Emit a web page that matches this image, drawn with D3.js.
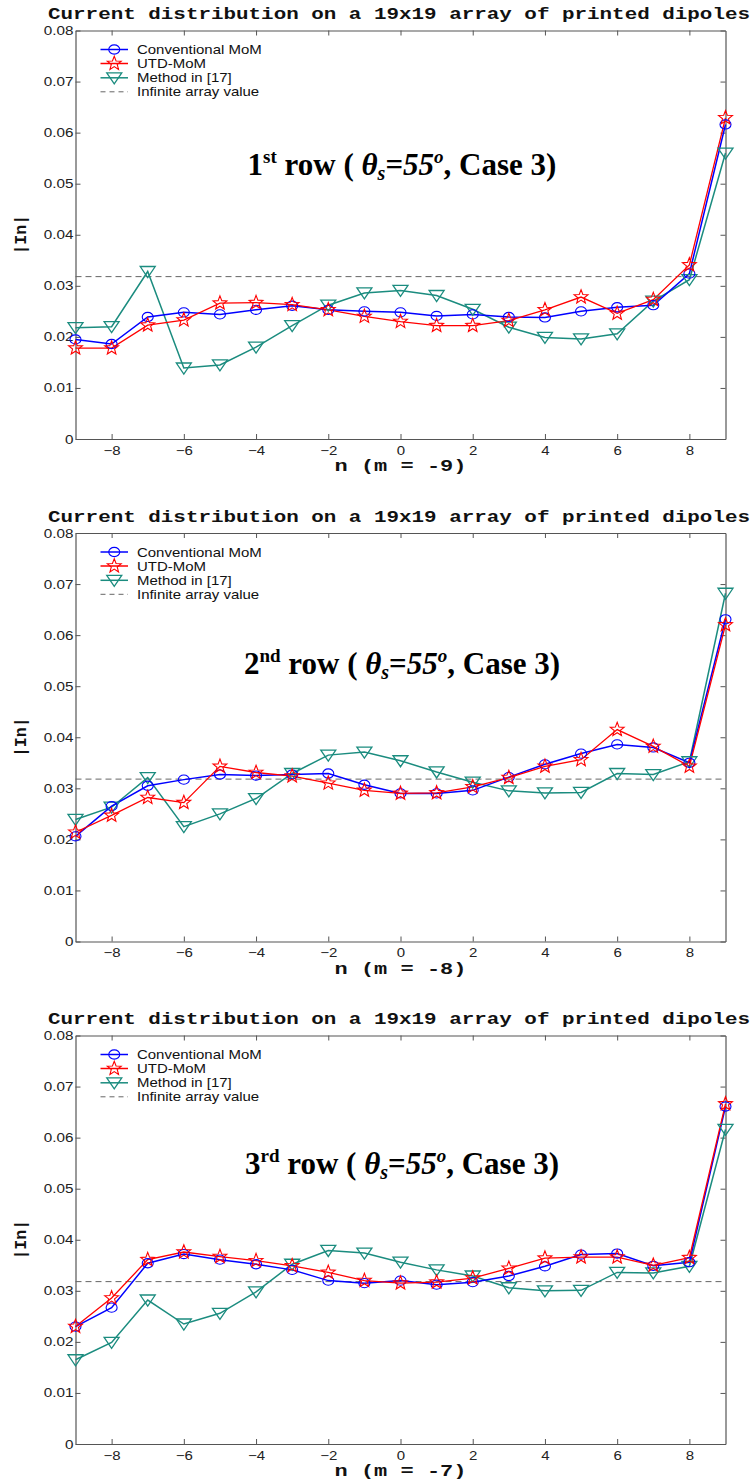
<!DOCTYPE html>
<html>
<head>
<meta charset="utf-8">
<script src="https://cdn.jsdelivr.net/npm/d3@7"></script>
<style>
  html, body { margin: 0; padding: 0; background: #fff; }
  svg { display: block; }
</style>
</head>
<body>
<script>
// Element index along the row
const nIndex = [-9, -8, -7, -6, -5, -4, -3, -2, -1, 0, 1, 2, 3, 4, 5, 6, 7, 8, 9];

// |In| for row m = -9
const momRow1 = [0.0195, 0.0186, 0.0239, 0.0248, 0.0244, 0.0253, 0.0261, 0.0253, 0.0250, 0.0248, 0.0241, 0.0244, 0.0239, 0.0238, 0.0250, 0.0258, 0.0262, 0.0324, 0.0616];
const utdRow1 = [0.0178, 0.0178, 0.0223, 0.0233, 0.0266, 0.0267, 0.0263, 0.0253, 0.0240, 0.0230, 0.0222, 0.0222, 0.0232, 0.0253, 0.0278, 0.0246, 0.0273, 0.0341, 0.0629];
const refRow1 = [0.0218, 0.0220, 0.0328, 0.0139, 0.0145, 0.0180, 0.0222, 0.0262, 0.0286, 0.0291, 0.0281, 0.0254, 0.0219, 0.0199, 0.0196, 0.0206, 0.0270, 0.0312, 0.0560];

// |In| for row m = -8
const momRow2 = [0.0206, 0.0265, 0.0305, 0.0317, 0.0327, 0.0325, 0.0327, 0.0329, 0.0307, 0.0290, 0.0290, 0.0296, 0.0322, 0.0347, 0.0368, 0.0386, 0.0380, 0.0350, 0.0631];
const utdRow2 = [0.0214, 0.0247, 0.0282, 0.0272, 0.0343, 0.0331, 0.0324, 0.0310, 0.0296, 0.0290, 0.0291, 0.0303, 0.0321, 0.0343, 0.0356, 0.0415, 0.0382, 0.0343, 0.0620];
const refRow2 = [0.0239, 0.0263, 0.0321, 0.0225, 0.0250, 0.0280, 0.0329, 0.0365, 0.0371, 0.0354, 0.0332, 0.0312, 0.0295, 0.0291, 0.0292, 0.0329, 0.0327, 0.0352, 0.0682];

// |In| for row m = -7
const momRow3 = [0.0230, 0.0267, 0.0354, 0.0372, 0.0361, 0.0352, 0.0341, 0.0320, 0.0315, 0.0320, 0.0312, 0.0317, 0.0329, 0.0348, 0.0371, 0.0373, 0.0349, 0.0356, 0.0661];
const utdRow3 = [0.0230, 0.0286, 0.0361, 0.0376, 0.0367, 0.0359, 0.0349, 0.0336, 0.0320, 0.0315, 0.0317, 0.0325, 0.0344, 0.0364, 0.0366, 0.0366, 0.0350, 0.0365, 0.0666];
const refRow3 = [0.0165, 0.0199, 0.0282, 0.0235, 0.0256, 0.0298, 0.0352, 0.0379, 0.0374, 0.0356, 0.0341, 0.0329, 0.0306, 0.0300, 0.0301, 0.0336, 0.0335, 0.0348, 0.0616];

// Infinite array reference level
const infiniteValue = 0.0318;

// Axis ticks
const xTicks = [-8, -6, -4, -2, 0, 2, 4, 6, 8];
const yTicks = [0, 0.01, 0.02, 0.03, 0.04, 0.05, 0.06, 0.07, 0.08];
const yTickLabels = ["0", "0.01", "0.02", "0.03", "0.04", "0.05", "0.06", "0.07", "0.08"];

// Panel texts
const panelTitle = "Current distribution on a 19x19 array of printed dipoles";
const xLabels = ["n  (m = -9)", "n  (m = -8)", "n  (m = -7)"];
const rowOrdinals = [["1", "st"], ["2", "nd"], ["3", "rd"]];
const seriesNames = ["Conventional MoM", "UTD-MoM", "Method in [17]", "Infinite array value"];

const panels = [
  { mom: momRow1, utd: utdRow1, ref: refRow1 },
  { mom: momRow2, utd: utdRow2, ref: refRow2 },
  { mom: momRow3, utd: utdRow3, ref: refRow3 }
];

const W = 755, H = 1483;
const plotLeft = 75.5, plotRight = 725.5, plotHeight = 408.5;
const panelTops = [30.5, 533, 1035.5];
const annotationOffsets = [144, 140.5, 138];

const blue = "#0000ff", red = "#ff0000", teal = "#1b8c7f", axisGray = "#555";

const svg = d3.select("body").append("svg")
  .attr("width", W).attr("height", H)
  .attr("viewBox", `0 0 ${W} ${H}`);

const x = d3.scaleLinear().domain([-9, 9]).range([plotLeft, plotRight]);

// Widen sans-serif labels horizontally, keeping their anchor in place
function widen(sel, factor) {
  sel.each(function () {
    const len = this.getComputedTextLength();
    d3.select(this).attr("textLength", len * factor).attr("lengthAdjust", "spacingAndGlyphs");
  });
}

function starPath(ro, ri) {
  const pts = [];
  for (let i = 0; i < 10; i++) {
    const r = i % 2 === 0 ? ro : ri;
    const a = -Math.PI / 2 + i * Math.PI / 5;
    pts.push([r * Math.cos(a), r * Math.sin(a)]);
  }
  return "M" + pts.map(p => p[0].toFixed(2) + "," + p[1].toFixed(2)).join("L") + "Z";
}
const STAR = starPath(7.3, 3.1);
const TRI = "M-7.5,-5L7.5,-5L0,6Z";

function drawCircle(g, px, py) {
  g.append("ellipse").attr("cx", px).attr("cy", py).attr("rx", 5.5).attr("ry", 4.6)
    .attr("fill", "none").attr("stroke", blue).attr("stroke-width", 1.1);
}
function drawStar(g, px, py) {
  g.append("path").attr("d", STAR).attr("transform", `translate(${px},${py})`)
    .attr("fill", "none").attr("stroke", red).attr("stroke-width", 1.1);
}
function drawTri(g, px, py) {
  g.append("path").attr("d", TRI).attr("transform", `translate(${px},${py})`)
    .attr("fill", "none").attr("stroke", teal).attr("stroke-width", 1.3);
}

panels.forEach((p, k) => {
  const top = panelTops[k];
  const bottom = top + plotHeight;
  const y = d3.scaleLinear().domain([0, 0.08]).range([bottom, top]);
  const g = svg.append("g");

  // Title
  g.append("text")
    .attr("x", 48).attr("y", top - 11.5)
    .attr("font-family", "'Liberation Mono', 'Courier New', monospace")
    .attr("font-weight", "bold").attr("font-size", 16.5)
    .attr("textLength", 702).attr("lengthAdjust", "spacingAndGlyphs")
    .attr("fill", "#111")
    .text(panelTitle);

  // Axes (box with inward ticks)
  const axisStyle = sel => {
    sel.select(".domain").attr("stroke", axisGray).attr("stroke-width", 1.2);
    sel.selectAll(".tick line").attr("stroke", axisGray).attr("stroke-width", 1);
    sel.selectAll(".tick text").attr("fill", "#222")
      .attr("font-family", "'Liberation Sans', Arial, sans-serif").attr("font-size", 12.5);
  };

  const xb = g.append("g").attr("transform", `translate(0,${bottom})`)
    .call(d3.axisBottom(x).tickValues(xTicks).tickSizeInner(-5).tickSizeOuter(0).tickPadding(7)
      .tickFormat(d3.format("d")))
    .call(axisStyle);
  g.append("g").attr("transform", `translate(0,${top})`)
    .call(d3.axisTop(x).tickValues(xTicks).tickSizeInner(-5).tickSizeOuter(0).tickFormat(""))
    .call(axisStyle);
  const yl = g.append("g").attr("transform", `translate(${plotLeft},0)`)
    .call(d3.axisLeft(y).tickValues(yTicks).tickSizeInner(-5).tickSizeOuter(0).tickPadding(2)
      .tickFormat((d, i) => yTickLabels[i]))
    .call(axisStyle);
  g.append("g").attr("transform", `translate(${plotRight},0)`)
    .call(d3.axisRight(y).tickValues(yTicks).tickSizeInner(-5).tickSizeOuter(0).tickFormat(""))
    .call(axisStyle);
  widen(xb.selectAll(".tick text"), 1.2);
  widen(yl.selectAll(".tick text"), 1.22);

  // Axis labels
  g.append("text")
    .attr("x", (plotLeft + plotRight) / 2 - 66).attr("y", bottom + 32)
    .attr("font-family", "'Liberation Mono', 'Courier New', monospace")
    .attr("font-weight", "bold").attr("font-size", 16.5)
    .attr("textLength", 132).attr("lengthAdjust", "spacingAndGlyphs")
    .attr("fill", "#111")
    .text(xLabels[k]);
  g.append("text")
    .attr("transform", `translate(26,${(top + bottom) / 2}) rotate(-90)`)
    .attr("text-anchor", "middle")
    .attr("font-family", "'Liberation Mono', 'Courier New', monospace")
    .attr("font-weight", "bold").attr("font-size", 16.5)
    .attr("fill", "#111")
    .text("|In|");

  // Infinite array level
  g.append("line")
    .attr("x1", plotLeft).attr("x2", plotRight)
    .attr("y1", y(infiniteValue)).attr("y2", y(infiniteValue))
    .attr("stroke", "#666").attr("stroke-width", 1).attr("stroke-dasharray", "6,4");

  const line = d3.line().x((d, i) => x(nIndex[i])).y(d => y(d));

  g.append("path").datum(p.ref).attr("d", line)
    .attr("fill", "none").attr("stroke", teal).attr("stroke-width", 1.5);
  g.append("path").datum(p.mom).attr("d", line)
    .attr("fill", "none").attr("stroke", blue).attr("stroke-width", 1.5);
  g.append("path").datum(p.utd).attr("d", line)
    .attr("fill", "none").attr("stroke", red).attr("stroke-width", 1.3);

  p.ref.forEach((v, i) => drawTri(g, x(nIndex[i]), y(v)));
  p.mom.forEach((v, i) => drawCircle(g, x(nIndex[i]), y(v)));
  p.utd.forEach((v, i) => drawStar(g, x(nIndex[i]), y(v)));

  // Legend
  const lx0 = 100.5, lx1 = 128, lxm = 114.25, tx = 137;
  const rows = [top + 19, top + 33, top + 47.3, top + 61.3];
  const lg = g.append("g");
  const legendColors = [blue, red, teal];
  legendColors.forEach((c, i) => {
    lg.append("line").attr("x1", lx0).attr("x2", lx1).attr("y1", rows[i]).attr("y2", rows[i])
      .attr("stroke", c).attr("stroke-width", 1.5);
  });
  drawCircle(lg, lxm, rows[0]);
  drawStar(lg, lxm, rows[1]);
  drawTri(lg, lxm, rows[2]);
  lg.append("line").attr("x1", lx0).attr("x2", lx1).attr("y1", rows[3]).attr("y2", rows[3])
    .attr("stroke", "#666").attr("stroke-width", 1).attr("stroke-dasharray", "5,4");
  const lt = lg.selectAll("text.legend").data(seriesNames).join("text")
    .attr("class", "legend")
    .attr("x", tx).attr("y", (d, i) => rows[i] + 4.5)
    .attr("font-family", "'Liberation Sans', Arial, sans-serif").attr("font-size", 13)
    .attr("fill", "#111")
    .text(d => d);
  widen(lt, 1.15);

  // Row annotation
  const ann = g.append("text")
    .attr("x", 402).attr("y", top + annotationOffsets[k])
    .attr("text-anchor", "middle")
    .attr("font-family", "'Liberation Serif', 'Times New Roman', serif")
    .attr("font-weight", "bold").attr("font-size", 31)
    .attr("fill", "#000");
  ann.append("tspan").text(rowOrdinals[k][0]);
  ann.append("tspan").attr("font-size", 19).attr("dy", -12).text(rowOrdinals[k][1]);
  ann.append("tspan").attr("dy", 12).text(" row ( ");
  ann.append("tspan").attr("font-style", "italic").text("θ");
  ann.append("tspan").attr("font-style", "italic").attr("font-size", 20).attr("dy", 5).text("s");
  ann.append("tspan").attr("dy", -5).text("=");
  ann.append("tspan").attr("font-style", "italic").text("55");
  ann.append("tspan").attr("font-style", "italic").attr("font-size", 19).attr("dy", -12).text("o");
  ann.append("tspan").attr("dy", 12).text(", Case 3)");
});
</script>
</body>
</html>
